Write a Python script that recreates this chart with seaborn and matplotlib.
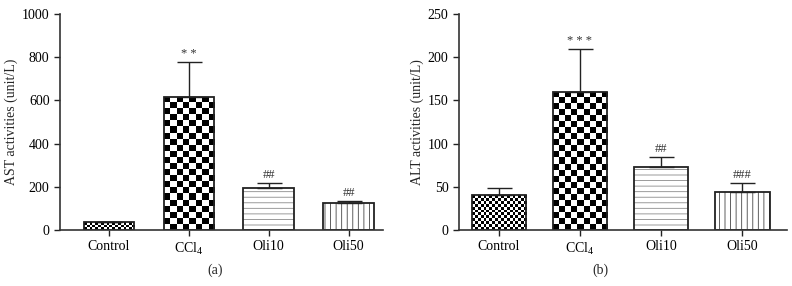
import numpy as np
import matplotlib
matplotlib.use("Agg")
import matplotlib.pyplot as plt
import matplotlib.colors as mcolors
import seaborn as sns

# style first, fonts after (set_style resets font.family)
sns.set_style("ticks")
plt.rcParams["font.family"] = ["Liberation Serif", "DejaVu Serif"]
plt.rcParams["mathtext.fontset"] = "custom"
plt.rcParams["mathtext.rm"] = "Liberation Serif"
plt.rcParams["hatch.color"] = "#666666"
plt.rcParams["hatch.linewidth"] = 0.6

# ---------------------------------------
# Data
# ---------------------------------------
categories = ["Control", "CCl$_\\mathregular{4}$", "Oli10", "Oli50"]

ast_mean = [35, 617, 193, 123]
ast_sem = [3, 159, 26, 13]
ast_marks = ["", "* *", "##", "##"]

alt_mean = [40.5, 160, 73, 44.5]
alt_sem = [8.5, 49.5, 11, 10]
alt_marks = ["", "* * *", "##", "###"]

# fill style per bar: ("checker", square px) or (hatch, colour)
fills = [("checker", 2.8), ("checker", 6.0), ("---", "#8a8a8a"), ("|||", "#444444")]


def checker_fill(ax, patch, sq):
    # checkerboard texture clipped to the bar
    x0, y0 = patch.get_x(), patch.get_y()
    x1, y1 = x0 + patch.get_width(), y0 + patch.get_height()
    (px0, py0), (px1, py1) = ax.transData.transform([(x0, y0), (x1, y1)])
    nx = max(1, int(round(abs(px1 - px0) / sq)))
    ny = max(1, int(round(abs(py1 - py0) / sq)))
    board = (np.add.outer(np.arange(ny), np.arange(nx)) % 2).astype(float)
    im = ax.imshow(board, cmap="gray", extent=(x0, x1, y0, y1), aspect="auto",
                   interpolation="nearest", vmin=0, vmax=1, zorder=0.5)
    im.set_clip_path(patch)
    patch.set_facecolor("none")
    patch.set_zorder(1)


def panel(ax, means, sems, marks, ylabel, yticks, xlim, width, letter, lx):
    sns.barplot(x=categories, y=means, color="white", saturation=1,
                edgecolor="#222222", linewidth=1.3, width=width,
                errorbar=None, ax=ax)
    xs = np.arange(len(categories))
    ax.errorbar(xs, means, yerr=[np.zeros(len(sems)), sems], fmt="none",
                ecolor="#222222", elinewidth=1.0, capsize=9, capthick=1.0,
                zorder=3)
    ax.set_xlim(*xlim)
    ax.set_ylim(yticks[0], yticks[-1])
    ax.set_yticks(yticks)

    for patch, (kind, val) in zip(ax.patches, fills):
        if kind == "checker":
            checker_fill(ax, patch, val)
        else:
            patch.set_hatch(kind)
            patch._hatch_color = mcolors.to_rgba(val)
    ax.set_xlim(*xlim)
    ax.set_ylim(yticks[0], yticks[-1])

    for i, m in enumerate(marks):
        if m:
            ax.annotate(m, (i, means[i] + sems[i]), xytext=(0, 1.5),
                        textcoords="offset points", ha="center", va="bottom",
                        fontsize=9, color="#333333")

    ax.set_ylabel(ylabel, fontsize=10, labelpad=3)
    ax.tick_params(axis="both", labelsize=10, direction="out", length=4,
                   width=1.0, colors="#222222", labelcolor="black")
    for s in ["left", "bottom"]:
        ax.spines[s].set_linewidth(1.2)
        ax.spines[s].set_color("#333333")
    sns.despine(ax=ax)
    ax.text(lx, -0.185, letter, transform=ax.transAxes, ha="center",
            va="center", fontsize=10)


fig = plt.figure(figsize=(7.92, 2.86), dpi=100)
ax1 = fig.add_axes([60 / 792, 56 / 286, 323 / 792, 216 / 286])
ax2 = fig.add_axes([459 / 792, 56 / 286, 328 / 792, 216 / 286])

panel(ax1, ast_mean, ast_sem, ast_marks, "AST activities (unit/L)",
      [0, 200, 400, 600, 800, 1000], (-0.61, 3.43), 0.63, "(a)", 0.48)
panel(ax2, alt_mean, alt_sem, alt_marks, "ALT activities (unit/L)",
      [0, 50, 100, 150, 200, 250], (-0.49, 3.55), 0.67, "(b)", 0.43)

fig.savefig("out.png", dpi=100)
